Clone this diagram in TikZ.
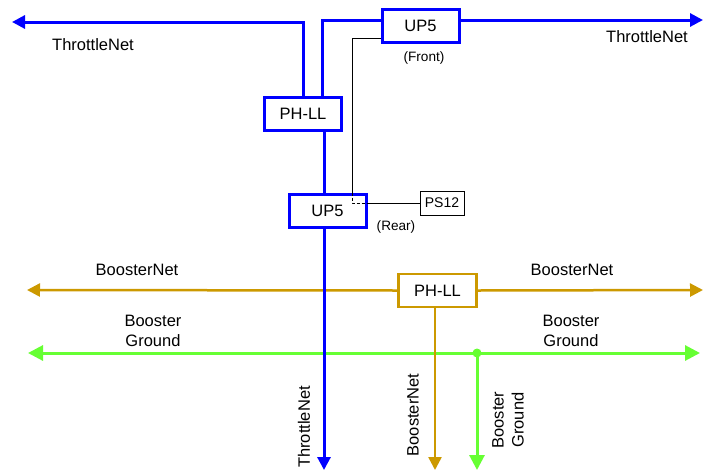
\documentclass[tikz,border=0pt]{standalone}
\usepackage{fontspec}
\setmainfont{Liberation Sans}
\usetikzlibrary{arrows.meta}
\definecolor{netblue}{RGB}{0,0,255}
\definecolor{netgold}{RGB}{204,153,0}
\definecolor{netgreen}{RGB}{102,255,51}
\begin{document}
\begin{tikzpicture}[x=1pt,y=-1pt,
  lbl/.style={font=\fontsize{16.5}{20}\selectfont, inner sep=0pt, align=center},
  small/.style={font=\fontsize{13.6}{16}\selectfont, inner sep=0pt},
  blueline/.style={draw=netblue, line width=3pt},
  goldline/.style={draw=netgold, line width=2.5pt},
  greenline/.style={draw=netgreen, line width=3pt},
  thin/.style={draw=black, line width=0.9pt},
  bluetip/.style={-{Triangle[length=13pt,width=13pt]}},
  goldtip/.style={-{Triangle[length=13pt,width=13pt]}},
  greentip/.style={-{Triangle[length=15pt,width=15pt]}},
  greentips/.style={{Triangle[length=15pt,width=15pt]}-{Triangle[length=15pt,width=15pt]}},
  bluebox/.style={draw=netblue, line width=3pt, fill=white, minimum width=77pt, minimum height=33pt, lbl},
  goldbox/.style={draw=netgold, line width=2.5pt, fill=white, minimum width=78pt, minimum height=33pt, lbl},
  plainbox/.style={draw=black, line width=0.9pt, fill=white, minimum width=44pt, minimum height=24pt,
    font=\fontsize{14}{16}\selectfont, inner sep=0pt}
]
\useasboundingbox (0,0) rectangle (704,472);

% free ends of the nets
\coordinate (tlWest) at (12,22);
\coordinate (tlEast) at (703,20);
\coordinate (tlDown) at (324,470);
\coordinate (bnWest) at (27,290);
\coordinate (bnEast) at (703,290);
\coordinate (bnDown) at (435,470);
\coordinate (bgWest) at (28,353);
\coordinate (bgEast) at (700,353);
\coordinate (bgDown) at (477,470);
\coordinate (bgTap) at (477,353);
\coordinate (frontTurn) at (352,38);

% booster ground net
\draw[greenline, greentips] (bgWest) -- (bgEast);
\draw[greenline, greentip] (bgTap) -- (bgDown);
\fill[netgreen] (bgTap) circle (4.5pt);

% booster net through its PH-LL
\node[goldbox] (phB) at (437.5,290.5) {PH-LL};
\draw[goldline, goldtip] (phB.west) -- (bnWest);
\draw[goldline, goldtip] (phB.east) -- (bnEast);
\draw[goldline, goldtip] (phB.south -| bnDown) -- (bnDown);

% throttle net components
\node[bluebox] (phT) at (303,113.5) {PH-LL};
\node[bluebox] (upF) at (420.5,26) {UP5};
\node[bluebox] (upR) at (327.5,210.5) {UP5};
\node[plainbox] (ps) at (442,203) {PS12};

% thin signal wire from the front UP5 to PS12
\draw[thin] ([yshift=-12pt]upF.west) -- (frontTurn) -- (frontTurn |- upR.north);
\draw[thin, dashed, dash pattern=on 3pt off 2pt] (frontTurn |- upR.north) -- (frontTurn |- ps.west) -- (upR.east |- ps.west);
\draw[thin] (upR.east |- ps.west) -- (ps.west);

% throttle net
\draw[blueline, bluetip] (phT.north) |- (tlWest);
\draw[blueline] ([xshift=19pt]phT.north) |- ([yshift=6pt]upF.west);
\draw[blueline, bluetip] ([yshift=6pt]upF.east) -- (tlEast);
\draw[blueline] (phT.south -| tlDown) -- (upR.north -| tlDown);
\draw[blueline, bluetip] (upR.south -| tlDown) -- (tlDown);

% labels
\node[lbl] (lt1) at (93,45) {ThrottleNet};
\node[lbl] (lt2) at (647,37) {ThrottleNet};
\node[small] (lfront) at (424,58) {(Front)};
\node[small] (lrear) at (396,227) {(Rear)};
\node[lbl] (lb1) at (137,270) {BoosterNet};
\node[lbl] (lb2) at (572,270) {BoosterNet};
\node[lbl] (lg1) at (153,331) {Booster\\Ground};
\node[lbl] (lg2) at (571,331) {Booster\\Ground};
\node[lbl, rotate=90] (lt3) at (304,427) {ThrottleNet};
\node[lbl, rotate=90] (lb3) at (413,415) {BoosterNet};
\node[lbl, rotate=90] (lg3) at (508,420) {Booster\\Ground};
\end{tikzpicture}
\end{document}
